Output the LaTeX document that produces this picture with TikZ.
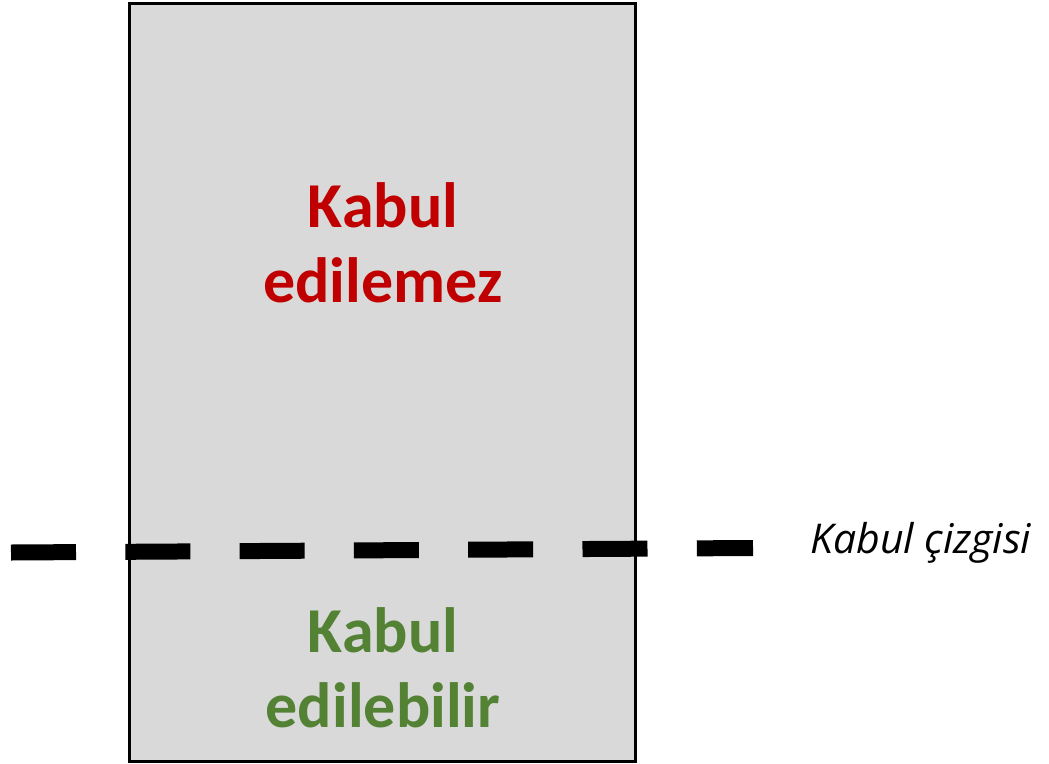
\documentclass[tikz,border=0pt]{standalone}
\usepackage{fontspec}
\setmainfont{Carlito}
\newfontfamily\labelfont{Open Sans}
\definecolor{boxgray}{HTML}{D9D9D9}
\definecolor{badred}{HTML}{C00000}
\definecolor{goodgreen}{HTML}{548235}
\begin{document}
\begin{tikzpicture}[x=1pt,y=1pt,
  zone/.style={draw=black,line width=3pt,fill=boxgray,outer sep=0pt,inner sep=0pt},
  bigtext/.style={font=\fontsize{64}{75}\selectfont\bfseries,align=center,inner sep=0pt,anchor=base},
  limitline/.style={line width=16pt,dash pattern=on 65pt off 49.3pt},
  labeltext/.style={font=\labelfont\fontsize{41}{48}\selectfont\itshape,inner sep=0pt,anchor=base west}]
\useasboundingbox (0,0) rectangle (1049,-763);
\node[zone,minimum width=506pt,minimum height=758pt,anchor=north west] (box) at (129.5,-3.5) {};
\node[bigtext,text=badred] (bad) at (383,-302) {Kabul\\edilemez};
\node[bigtext,text=goodgreen] (good) at (383,-727) {Kabul\\edilebilir};
\coordinate (lstart) at (11,-552.5);
\coordinate (lend) at (753,-548);
\draw[limitline] (lstart) -- (lend);
\node[labeltext] (lbl) at (810,-553) {Kabul çizgisi};
\end{tikzpicture}
\end{document}
